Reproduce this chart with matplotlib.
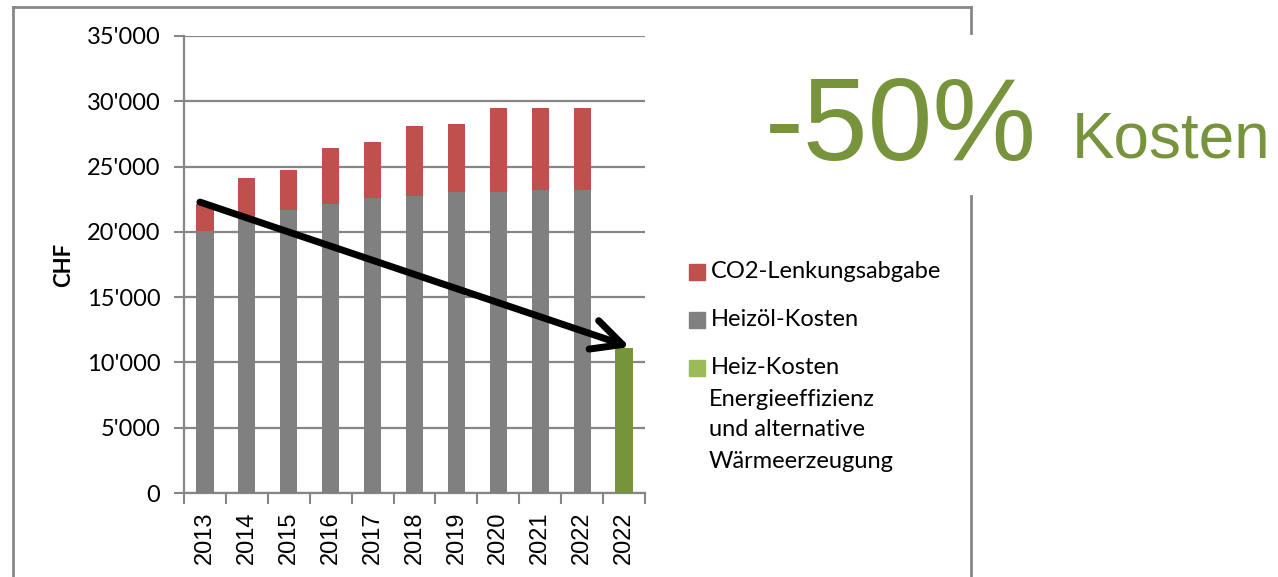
import matplotlib.pyplot as plt
from matplotlib.patches import Rectangle
from matplotlib.lines import Line2D
import numpy as np

years = ['2013', '2014', '2015', '2016', '2017', '2018', '2019', '2020', '2021', '2022', '2022']
heizoel = [20100, 21000, 21700, 22150, 22600, 22750, 23050, 23050, 23200, 23200]
co2_total = [22100, 24100, 24700, 26400, 26850, 28100, 28250, 29500, 29500, 29500]
alternative = 11100
co2 = [t - h for t, h in zip(co2_total, heizoel)]

W, H = 1278, 577
fig = plt.figure(figsize=(W / 100, H / 100), dpi=100)


def fx(px):
    return px / W


def fy(py):
    return 1 - py / H


ax = fig.add_axes([fx(184), fy(493), fx(645) - fx(184), fy(36) - fy(493)])

grey = '#808080'
red = '#C0504D'
green = '#77933C'
grid_c = '#868686'

x = np.arange(len(years))
ax.bar(x[:10], heizoel, width=0.41, color=grey, zorder=3)
ax.bar(x[:10], co2, width=0.41, bottom=heizoel, color=red, zorder=3)
ax.bar(x[10], alternative, width=0.41, color=green, zorder=3)

ax.set_xlim(-0.5, len(years) - 0.5)
ax.set_ylim(0, 35000)
yt = np.arange(0, 35001, 5000)
ax.set_yticks(yt)
ax.set_yticklabels(["{:,}".format(v).replace(',', "'") for v in yt],
                   fontsize=17, family='Lato')
ax.yaxis.grid(True, color=grid_c, lw=1.6, zorder=0)
ax.set_xticks(x)
ax.set_xticklabels(years, rotation=90, fontsize=17, family='Liberation Sans')
ax.set_xticks(np.arange(-0.5, len(years)), minor=True)
ax.tick_params(axis='x', which='major', length=0, pad=13)
ax.tick_params(axis='x', which='minor', length=8, width=1.5, color=grid_c)
ax.tick_params(axis='y', length=7, width=1.5, color=grid_c, pad=10)
for side in ['top', 'right']:
    ax.spines[side].set_visible(False)
for side in ['left', 'bottom']:
    ax.spines[side].set_color(grid_c)
    ax.spines[side].set_linewidth(1.6)

ax.set_ylabel('CHF', fontsize=16, fontweight='bold', family='Lato', labelpad=9)

# arrow from the 2013 total down to the alternative bar
ax.annotate('', xy=(10.14, 11180), xytext=(-0.12, 22280),
            arrowprops=dict(arrowstyle='->,head_length=1.45,head_width=0.72',
                            lw=5, color='black', shrinkA=0, shrinkB=0,
                            mutation_scale=15),
            zorder=5)

# frame
frame_c = '#878787'
fig.add_artist(Line2D([fx(13), fx(971)], [fy(7), fy(7)], color=frame_c, lw=2))
fig.add_artist(Line2D([fx(13), fx(13)], [fy(7), fy(577)], color=frame_c, lw=2))
fig.add_artist(Line2D([fx(971), fx(971)], [fy(7), fy(33)], color=frame_c, lw=2))
fig.add_artist(Line2D([fx(971), fx(971)], [fy(196), fy(577)], color=frame_c, lw=2))

# legend
leg_items = [
    (272, red, 'CO2-Lenkungsabgabe'),
    (320, grey, 'Heizöl-Kosten'),
    (368, '#9BBB59', 'Heiz-Kosten'),
]
for yc, col, label in leg_items:
    fig.add_artist(Rectangle((fx(689), fy(yc + 8)), fx(16), fy(yc - 8) - fy(yc + 8),
                             color=col, transform=fig.transFigure))
    fig.text(fx(711), fy(yc), label, fontsize=17, family='Lato', va='center', ha='left')
for yc, label in [(399, 'Energieeffizienz'), (430, 'und alternative'), (461, 'Wärmeerzeugung')]:
    fig.text(fx(709), fy(yc), label, fontsize=17, family='Lato', va='center', ha='left')

fig.text(fx(765), fy(160), '-50%', fontsize=84, color=green,
         family='Liberation Sans', va='baseline', ha='left')
fig.text(fx(1072), fy(158), 'Kosten', fontsize=46, color=green,
         family='Liberation Sans', va='baseline', ha='left')

fig.savefig('out.png', dpi=100)
